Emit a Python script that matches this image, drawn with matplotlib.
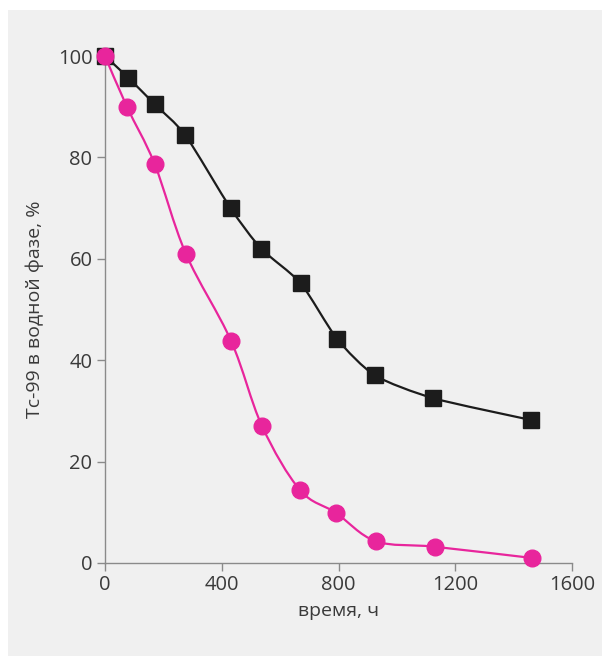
import matplotlib.pyplot as plt
from matplotlib.patches import Rectangle, PathPatch
from matplotlib.path import Path
import numpy as np

plt.rcParams['font.family'] = ['Open Sans', 'DejaVu Sans']

# data
time_sq = [0, 80, 170, 275, 430, 535, 670, 795, 925, 1125, 1460]
tc_sq = [100, 95.7, 90.5, 84.4, 70, 62, 55.2, 44.2, 37, 32.5, 28.2]

time_circ = [0, 75, 170, 277, 432, 538, 668, 791, 928, 1130, 1462]
tc_circ = [100, 90, 78.7, 61, 43.8, 27, 14.4, 9.9, 4.3, 3.2, 1.0]

xticks = [0, 400, 800, 1200, 1600]
yticks = [0, 20, 40, 60, 80, 100]

PINK = '#e8259c'
DARK = '#1c1c1c'
BG = '#f0f0f0'
AXIS = '#8a8a8a'
TEXT = '#3a3a3a'


def smooth_path(x, y, tension=0.5):
    # Catmull-Rom through the points, written as cubic Bezier segments
    x = np.asarray(x, float)
    y = np.asarray(y, float)
    pts = np.column_stack([x, y])
    verts = [pts[0]]
    codes = [Path.MOVETO]
    n = len(pts)
    for i in range(n - 1):
        p0 = pts[i - 1] if i > 0 else pts[i]
        p1 = pts[i]
        p2 = pts[i + 1]
        p3 = pts[i + 2] if i + 2 < n else pts[i + 1]
        c1 = p1 + (p2 - p0) * tension / 3
        c2 = p2 - (p3 - p1) * tension / 3
        verts += [c1, c2, p2]
        codes += [Path.CURVE4] * 3
    return Path(verts, codes)


fig = plt.figure(figsize=(6.02, 6.56), dpi=100)
fig.patch.set_facecolor('white')
fig.add_artist(Rectangle((8 / 602, 0), 1, 1 - 10 / 656, transform=fig.transFigure,
                         facecolor=BG, edgecolor='none', zorder=-10))

ax = fig.add_axes([105 / 602, 93 / 656, 467 / 602, 507 / 656])
ax.set_zorder(1)
ax.set_facecolor('none')

ax.add_patch(PathPatch(smooth_path(time_sq, tc_sq, 0.35), facecolor='none',
                       edgecolor=DARK, lw=1.6, zorder=3, clip_on=False))
ax.plot(time_sq, tc_sq, 's', color=DARK, ms=11.5, zorder=4, clip_on=False)

ax.add_patch(PathPatch(smooth_path(time_circ, tc_circ, 0.5), facecolor='none',
                       edgecolor=PINK, lw=1.6, zorder=5, clip_on=False))
ax.plot(time_circ, tc_circ, 'o', color=PINK, ms=12, zorder=6, clip_on=False)

ax.set_xlim(0, 1600)
ax.set_ylim(0, 100)
ax.set_xticks(xticks)
ax.set_yticks(yticks)

for s in ['top', 'right']:
    ax.spines[s].set_visible(False)
for s in ['left', 'bottom']:
    ax.spines[s].set_color(AXIS)
    ax.spines[s].set_linewidth(1.0)

ax.tick_params(direction='out', length=6, width=1.0, color=AXIS,
               labelsize=14.5, labelcolor=TEXT, pad=3)

ax.set_xlabel('время, ч', fontsize=14, color=TEXT, labelpad=5)
ax.set_ylabel('Tc-99 в водной фазе, %', fontsize=14, color=TEXT, labelpad=10)

fig.savefig('out.png', dpi=100, facecolor=fig.get_facecolor())
